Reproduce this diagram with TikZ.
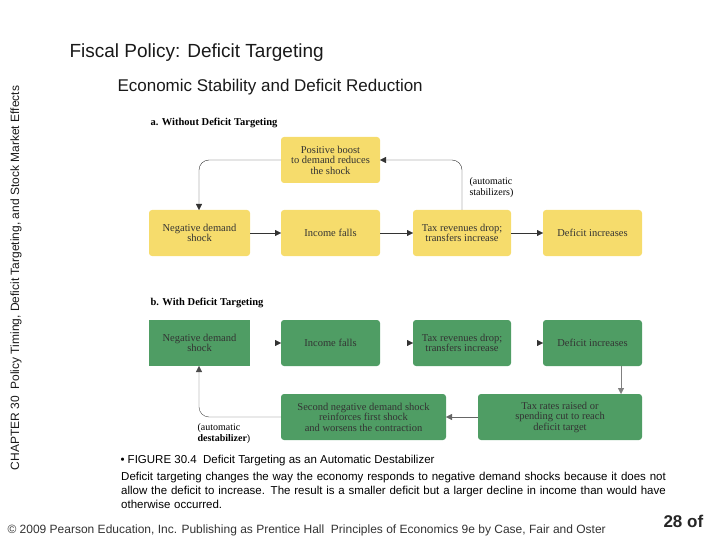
\documentclass[tikz,border=0pt]{standalone}
\usepackage{fontspec}
\setmainfont{Liberation Serif}
\newfontfamily\arial{Liberation Sans}
\usetikzlibrary{arrows.meta}
\definecolor{yel}{HTML}{F6DC6C}
\definecolor{grn}{HTML}{4F9D64}
\begin{document}
\begin{tikzpicture}[x=1pt,y=-1pt,
 ybox/.style={fill=yel,rounded corners=3pt},
 gbox/.style={fill=grn,rounded corners=3pt},
 bt/.style={align=center,font=\fontsize{10.5}{10.5}\selectfont,text=black!80},
 gt/.style={align=center,font=\fontsize{10.5}{10.5}\selectfont,text=black!80},
 arr/.style={-{Triangle[length=6pt,width=6pt]},black!80,thin},
 lbl/.style={font=\fontsize{10}{11}\selectfont,align=left,anchor=west}]
\useasboundingbox (0,0) rectangle (720,540);
\node[anchor=west,font=\arial\fontsize{19}{21}\selectfont,text=black!90] (t) at (66,53) {Fiscal Policy: Deficit Targeting};
\node[anchor=west,font=\arial\fontsize{17}{19}\selectfont,text=black!90] (st) at (114,87) {Economic Stability and Deficit Reduction};
\node[rotate=90,font=\arial\fontsize{12}{13}\selectfont,text=black!90] (side) at (16,278) {CHAPTER 30\ \ Policy Timing, Deficit Targeting, and Stock Market Effects};
% part a
\node[anchor=west,font=\bfseries\fontsize{10.5}{11}\selectfont] (ha) at (147,123) {a. Without Deficit Targeting};
\path[ybox] (281,137) rectangle (380,183); \node[bt] (pb) at (330.5,160) {Positive boost\\to demand reduces\\the shock};
\coordinate (pbw) at (281,160); \coordinate (pbe) at (380,160);
\path[ybox] (149,210) rectangle (250,256); \node[bt] (a1) at (199.5,233) {Negative demand\\shock};
\path[ybox] (281,210) rectangle (380,256); \node[bt] (a2) at (330.5,233) {Income falls};
\path[ybox] (413,210) rectangle (511,256); \node[bt] (a3) at (462,233) {Tax revenues drop;\\transfers increase};
\path[ybox] (543,210) rectangle (642,256); \node[bt] (a4) at (592.5,233) {Deficit increases};
\coordinate (a1e) at (250,233); \coordinate (a2w) at (281,233); \coordinate (a2e) at (380,233);
\coordinate (a3w) at (413,233); \coordinate (a3e) at (511,233); \coordinate (a4w) at (543,233);
\coordinate (a3n) at (462,210); \coordinate (a1n) at (199,210);
\draw[arr] (a1e) -- (a2w);
\draw[arr] (a2e) -- (a3w);
\draw[arr] (a3e) -- (a4w);
\draw[arr,rounded corners=10pt] (a3n) -- (462,160) -- (pbe);
\draw[arr,rounded corners=10pt] (pbw) -- (199,160) -- (a1n);
\node[lbl] (as) at (466,188) {(automatic\\stabilizers)};
% part b
\node[anchor=west,font=\bfseries\fontsize{10.5}{11}\selectfont] (hb) at (147,303) {b. With Deficit Targeting};
\path[fill=grn] (149,320) rectangle (250,366); \node[gt] (b1) at (199.5,343) {Negative demand\\shock};
\path[gbox] (281,320) rectangle (380,366); \node[gt] (b2) at (330.5,343) {Income falls};
\path[gbox] (413,320) rectangle (511,366); \node[gt] (b3) at (462,343) {Tax revenues drop;\\transfers increase};
\path[gbox] (543,320) rectangle (642,366); \node[gt] (b4) at (592.5,343) {Deficit increases};
\path[gbox] (281,394) rectangle (446,440); \node[gt] (b5) at (363.5,417) {Second negative demand shock\\reinforces first shock\\and worsens the contraction};
\path[gbox] (478,394) rectangle (642,440); \node[gt] (b6) at (560,417) {Tax rates raised or\\spending cut to reach\\deficit target};
\coordinate (b2w) at (281,343); \coordinate (b2p) at (275,343);
\coordinate (b3w) at (413,343); \coordinate (b3p) at (407,343);
\coordinate (b4w) at (543,343); \coordinate (b4p) at (537,343);
\draw[arr] (b2p) -- (b2w);
\draw[arr] (b3p) -- (b3w);
\draw[arr] (b4p) -- (b4w);
\draw[arr,black!50] (621,366) -- (621,394);
\draw[arr,black!60] (478,417) -- (446,417);
\draw[arr,black!70,rounded corners=10pt] (281,417) -- (199,417) -- (199,366);
\node[lbl] (ad) at (194,434) {(automatic\\\textbf{destabilizer})};
% caption
\node[anchor=west,font=\arial\fontsize{11.5}{13}\selectfont] (cap) at (117,461) {\textbullet\ FIGURE 30.4\ \ Deficit Targeting as an Automatic Destabilizer};
\node[anchor=north west,align=left,font=\arial\fontsize{11.5}{14}\selectfont,text width=565pt,inner sep=0pt] (body) at (121,472) {Deficit targeting changes the way the economy responds to negative demand shocks because it does not allow the deficit to increase. The result is a smaller deficit but a larger decline in income than would have otherwise occurred.};
\node[anchor=west,font=\arial\fontsize{12}{13}\selectfont,text=black!80] (copy) at (4,530) {\textcopyright\ 2009 Pearson Education, Inc. Publishing as Prentice Hall\ \ Principles of Economics 9e by Case, Fair and Oster};
\node[anchor=west,font=\arial\bfseries\fontsize{17}{19}\selectfont,text=black!85] (pg) at (660,521) {28 of};
\end{tikzpicture}
\end{document}
